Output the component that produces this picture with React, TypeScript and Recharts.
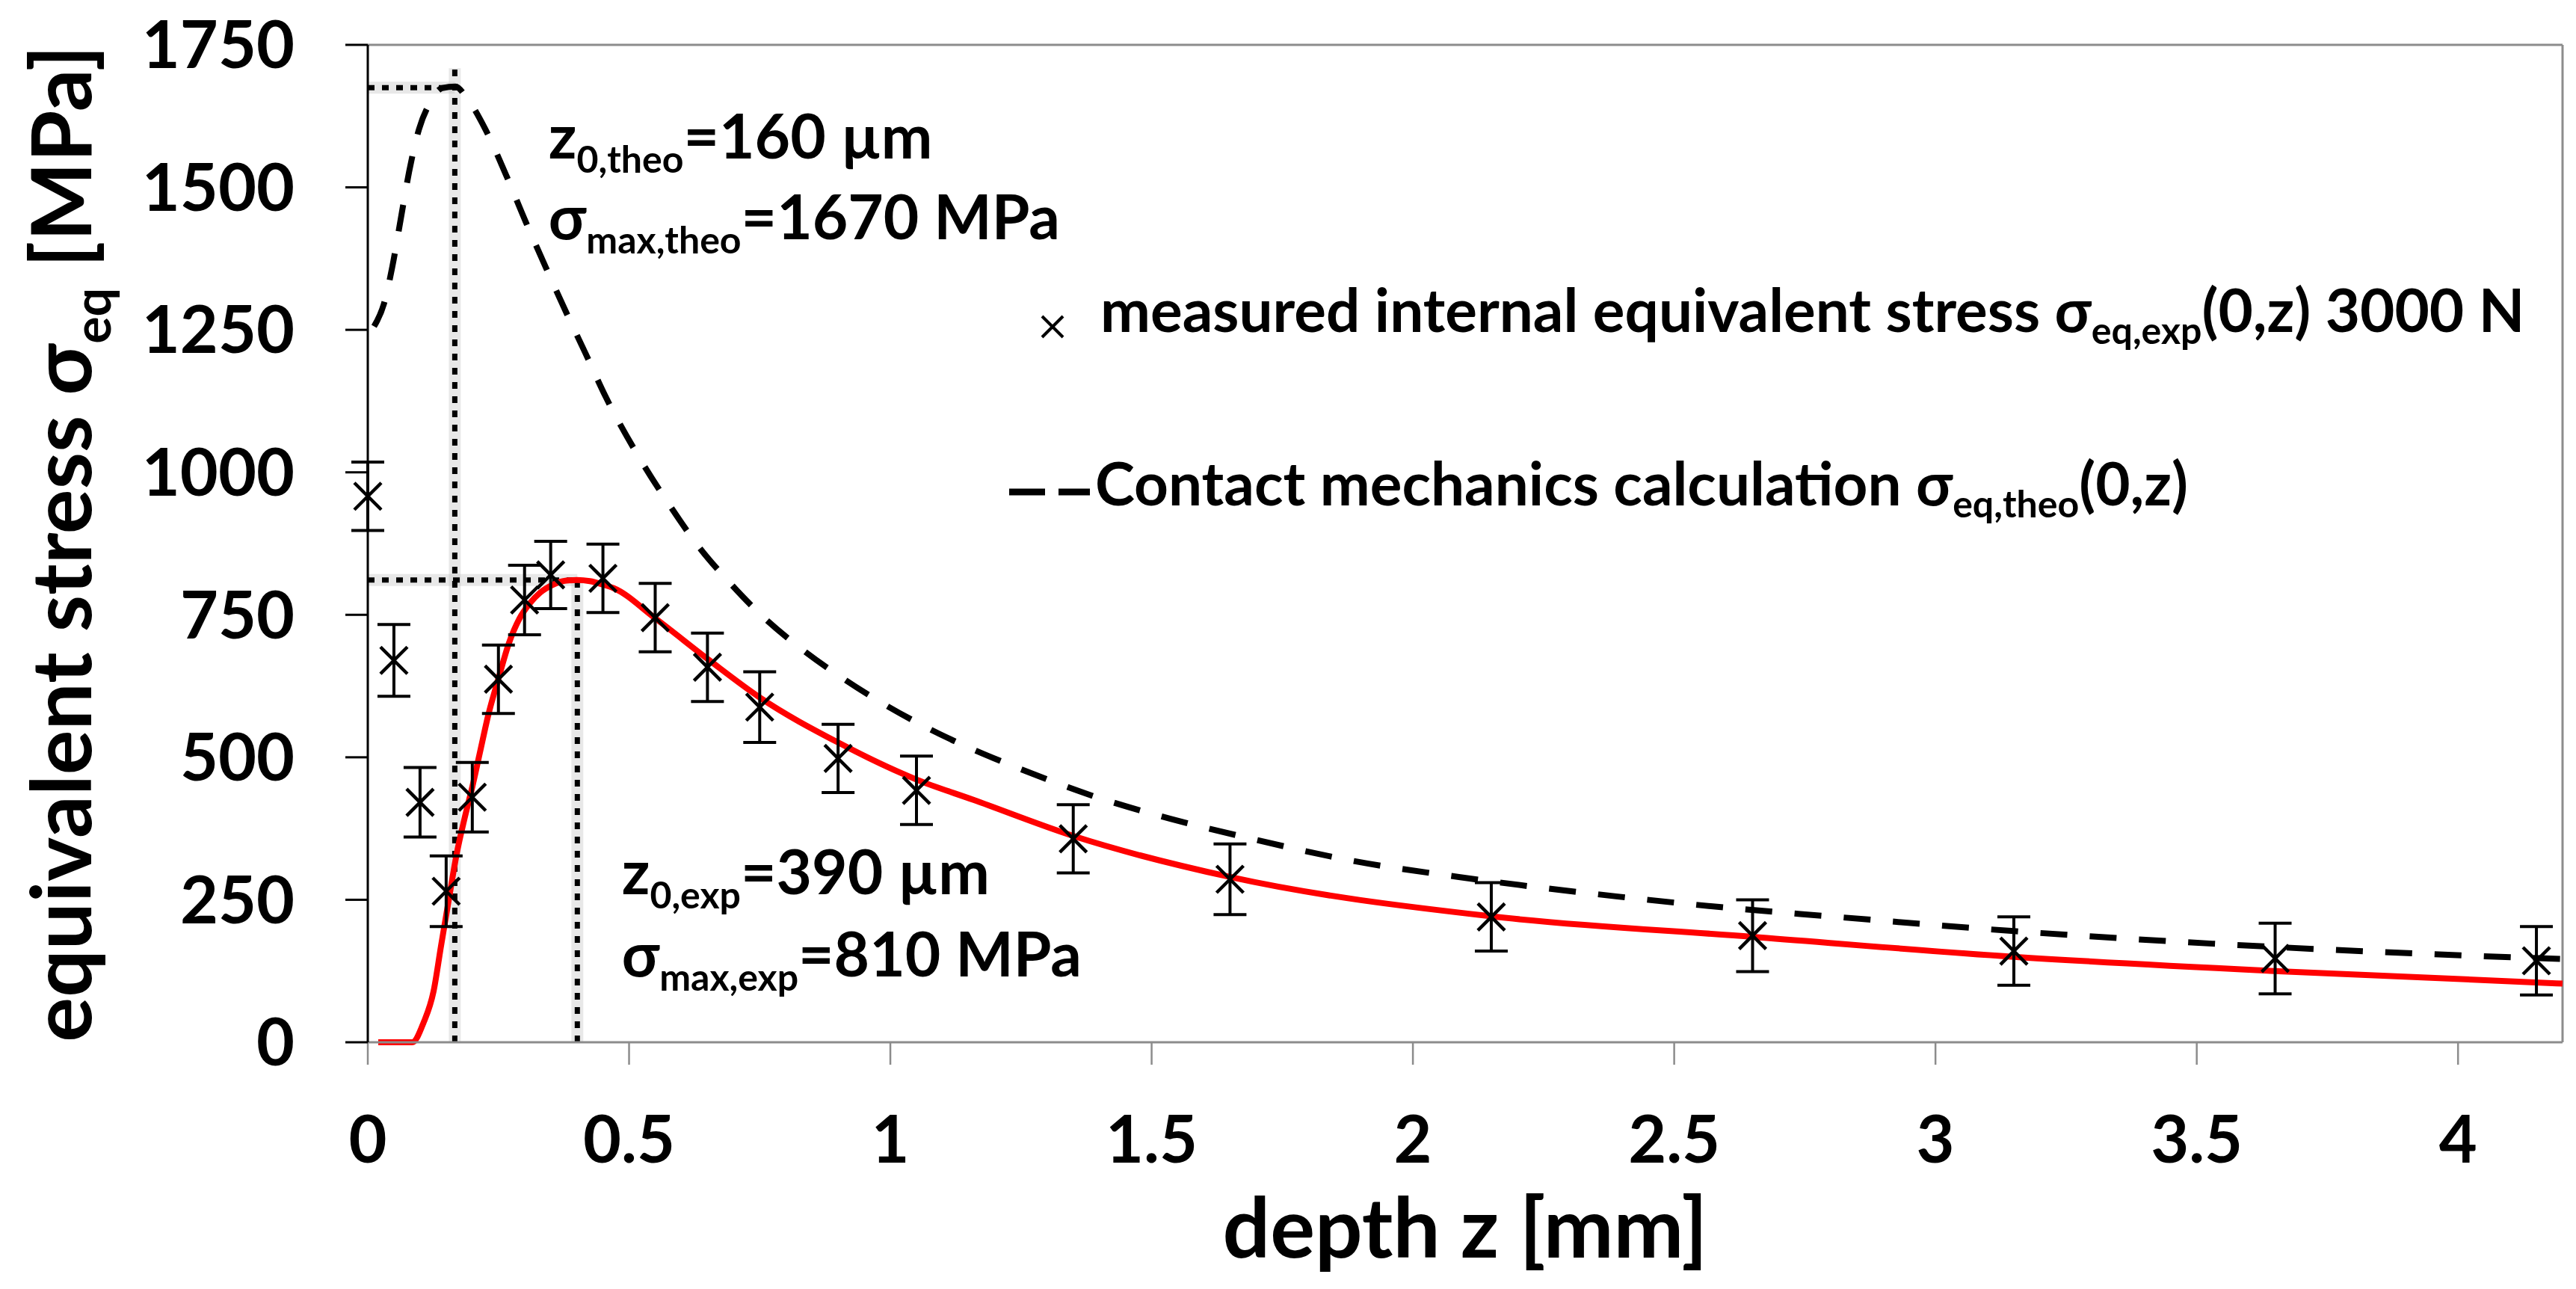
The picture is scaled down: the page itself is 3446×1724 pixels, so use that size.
import React from "react";
import {
  ComposedChart,
  Line,
  Scatter,
  ErrorBar,
  XAxis,
  YAxis,
  ReferenceLine,
  ReferenceDot,
  Legend,
} from "recharts";

const FONT = "Lato, 'Open Sans', sans-serif";

// measured internal equivalent stress, 3000 N (x-marks with error bars)
const depthMeasured = [0, 0.05, 0.1, 0.15, 0.2, 0.25, 0.3, 0.35, 0.45, 0.55, 0.65, 0.75, 0.9, 1.05, 1.35, 1.65, 2.15, 2.65, 3.15, 3.65, 4.15];
const stressMeasured = [958, 670, 421, 265, 430, 637, 776, 820, 814, 745, 658, 588, 498, 442, 357, 286, 220, 187, 160, 147, 143];
const stressError = [60, 63, 61, 62, 61, 60, 61, 59, 60, 60, 60, 62, 60, 60, 60, 62, 60, 63, 60, 62, 60];

// red fit through the measurements
const depthFit = [0.02, 0.085, 0.107, 0.126, 0.14, 0.155, 0.17, 0.185, 0.2, 0.215, 0.23, 0.25, 0.27, 0.29, 0.31, 0.33, 0.355, 0.38, 0.4, 0.425, 0.45, 0.47, 0.55, 0.654, 0.75, 0.9, 1.05, 1.16, 1.35, 1.65, 2.15, 2.65, 3.15, 3.65, 4.2];
const stressFit = [0, 0, 35, 90, 168, 250, 330, 392, 448, 510, 572, 638, 700, 743, 770, 789, 803, 810, 811, 809, 803, 797, 744, 670, 605, 526, 461, 425, 362, 290, 221, 185, 150, 125, 103];

// contact mechanics calculation (dashed)
const depthTheo = [0.012, 0.031, 0.047, 0.063, 0.079, 0.098, 0.117, 0.142, 0.168, 0.187, 0.225, 0.264, 0.302, 0.34, 0.379, 0.417, 0.455, 0.522, 0.577, 0.632, 0.694, 0.75, 0.83, 0.91, 0.99, 1.07, 1.16, 1.234, 1.385, 1.536, 1.687, 1.887, 2.088, 2.389, 2.59, 2.81, 3.15, 3.53, 4.05, 4.2];
const stressTheo = [1256, 1296, 1361, 1444, 1527, 1602, 1645, 1674, 1677, 1660, 1602, 1523, 1440, 1361, 1282, 1208, 1133, 1022, 943, 871, 805, 752, 690, 638, 592, 552, 513, 485, 433, 392, 358, 318, 290, 256, 237, 220, 195, 173, 151, 146];

const xTicks = [0, 0.5, 1, 1.5, 2, 2.5, 3, 3.5, 4];
const yTicks = [0, 250, 500, 750, 1000, 1250, 1500, 1750];

// maxima marked with dotted guide lines
const zTheo = 0.1665;
const sigmaTheoMax = 1675;
const zTheoTop = 1709;
const zExp = 0.401;
const sigmaExpMax = 811;

const annotations = [
  { z: 0.346, s: 1550, main: "z", sub: "0,theo", rest: "=160 µm" },
  { z: 0.346, s: 1409, main: "σ", sub: "max,theo", rest: "=1670 MPa" },
  { z: 0.486, s: 260, main: "z", sub: "0,exp", rest: "=390 µm" },
  { z: 0.486, s: 115, main: "σ", sub: "max,exp", rest: "=810 MPa" },
];

const measured = depthMeasured.map((x, i) => ({ x, measured: stressMeasured[i], err: stressError[i] }));
const fit = depthFit.map((x, i) => ({ x, fit: stressFit[i] }));
const theo = depthTheo.map((x, i) => ({ x, theo: stressTheo[i] }));

const XMark = (props: any) => {
  const { cx, cy } = props;
  const h = 18;
  return (
    <g stroke="#000" strokeWidth={4.5}>
      <line x1={cx - h} y1={cy - h} x2={cx + h} y2={cy + h} />
      <line x1={cx - h} y1={cy + h} x2={cx + h} y2={cy - h} />
    </g>
  );
};

const Annotation = ({ viewBox, main, sub, rest }: any) => (
  <text x={viewBox.x} y={viewBox.y} fontFamily={FONT} fontWeight={700} fontSize={82} fill="#000">
    {main}
    <tspan dy={19} fontSize={50}>{sub}</tspan>
    <tspan dy={-19}>{rest}</tspan>
  </text>
);

const YTitle = ({ viewBox }: any) => {
  const x = viewBox.x + 122;
  const y = viewBox.y + viewBox.height / 2;
  return (
    <text
      x={x}
      y={y}
      transform={`rotate(-90, ${x}, ${y})`}
      textAnchor="middle"
      fontFamily={FONT}
      fontWeight={700}
      fontSize={112}
      fill="#000"
    >
      equivalent stress σ
      <tspan dy={26} fontSize={68}>eq</tspan>
      <tspan dy={-26}> [MPa]</tspan>
    </text>
  );
};

const XTitle = ({ viewBox }: any) => (
  <text
    x={viewBox.x + viewBox.width / 2}
    y={viewBox.y + 288}
    textAnchor="middle"
    fontFamily={FONT}
    fontWeight={700}
    fontSize={112}
    fill="#000"
  >
    depth z [mm]
  </text>
);

const LegendBox = () => (
  <svg width={2100} height={340} style={{ overflow: "visible" }}>
    <g stroke="#000" strokeWidth={4}>
      <line x1={64} y1={43} x2={92} y2={71} />
      <line x1={92} y1={43} x2={64} y2={71} />
    </g>
    <text x={142} y={64} fontFamily={FONT} fontWeight={700} fontSize={80} fill="#000">
      measured internal equivalent stress σ
      <tspan dy={16} fontSize={50}>eq,exp</tspan>
      <tspan dy={-16}>(0,z) 3000 N</tspan>
    </text>
    <line x1={20} y1={278} x2={68} y2={278} stroke="#000" strokeWidth={9} />
    <line x1={86} y1={278} x2={128} y2={278} stroke="#000" strokeWidth={9} />
    <text x={135} y={296} fontFamily={FONT} fontWeight={700} fontSize={80} fill="#000">
      Contact mechanics calculation σ
      <tspan dy={16} fontSize={50}>eq,theo</tspan>
      <tspan dy={-16}>(0,z)</tspan>
    </text>
  </svg>
);

const tickStyle = { fill: "#000", fontSize: 88, fontFamily: FONT, fontWeight: 700 };
const dotted = { stroke: "#000", strokeWidth: 7, strokeDasharray: "9 10" };
const halo = { stroke: "#bdbdbd", strokeWidth: 16, strokeOpacity: 0.35 };

export default function App() {
  return (
    <div style={{ width: 3446, height: 1724, background: "#fff" }}>
      <style>{"body{margin:0;background:#fff}"}</style>
      <ComposedChart width={3446} height={1724} margin={{ top: 60, right: 18, bottom: 0, left: 0 }}>
        <XAxis
          dataKey="x"
          type="number"
          domain={[0, 4.2]}
          ticks={xTicks}
          height={330}
          tickSize={30}
          tickMargin={69}
          axisLine={{ stroke: "#8c8c8c", strokeWidth: 3 }}
          tickLine={{ stroke: "#8c8c8c", strokeWidth: 2.5 }}
          tick={tickStyle}
          label={(p: any) => <XTitle {...p} />}
        />
        <YAxis
          type="number"
          domain={[0, 1750]}
          ticks={yTicks}
          width={492}
          tickSize={30}
          tickMargin={68}
          axisLine={{ stroke: "#000", strokeWidth: 3 }}
          tickLine={{ stroke: "#000", strokeWidth: 3 }}
          tick={tickStyle}
          label={(p: any) => <YTitle {...p} />}
        />
        <ReferenceLine y={1750} stroke="#8c8c8c" strokeWidth={3} />
        <ReferenceLine x={4.2} stroke="#8c8c8c" strokeWidth={3} />

        <ReferenceLine segment={[{ x: 0, y: sigmaTheoMax }, { x: zTheo, y: sigmaTheoMax }]} {...halo} />
        <ReferenceLine segment={[{ x: zTheo, y: 0 }, { x: zTheo, y: zTheoTop }]} {...halo} />
        <ReferenceLine segment={[{ x: 0, y: sigmaExpMax }, { x: zExp, y: sigmaExpMax }]} {...halo} />
        <ReferenceLine segment={[{ x: zExp, y: 0 }, { x: zExp, y: sigmaExpMax }]} {...halo} />
        <ReferenceLine segment={[{ x: 0, y: sigmaTheoMax }, { x: zTheo, y: sigmaTheoMax }]} {...dotted} />
        <ReferenceLine segment={[{ x: zTheo, y: 0 }, { x: zTheo, y: zTheoTop }]} {...dotted} />
        <ReferenceLine segment={[{ x: 0, y: sigmaExpMax }, { x: zExp, y: sigmaExpMax }]} {...dotted} />
        <ReferenceLine segment={[{ x: zExp, y: 0 }, { x: zExp, y: sigmaExpMax }]} {...dotted} />

        <Line
          data={theo}
          dataKey="theo"
          type="monotone"
          stroke="#000"
          strokeWidth={8}
          strokeDasharray="36 30"
          dot={false}
          activeDot={false}
          isAnimationActive={false}
        />
        <Line
          data={fit}
          dataKey="fit"
          type="monotone"
          stroke="#ff0000"
          strokeWidth={8}
          dot={false}
          activeDot={false}
          isAnimationActive={false}
        />
        <Scatter data={measured} dataKey="measured" shape={XMark} isAnimationActive={false}>
          <ErrorBar dataKey="err" direction="y" width={22} strokeWidth={4} stroke="#000" isAnimationActive={false} />
        </Scatter>

        {annotations.map((a) => (
          <ReferenceDot
            key={a.sub}
            x={a.z}
            y={a.s}
            r={0}
            fill="none"
            stroke="none"
            label={(p: any) => <Annotation {...p} main={a.main} sub={a.sub} rest={a.rest} />}
          />
        ))}

        <Legend
          layout="vertical"
          align="center"
          verticalAlign="middle"
          wrapperStyle={{ left: 1330, top: 380, width: 2100, height: 340 }}
          content={() => <LegendBox />}
        />
      </ComposedChart>
    </div>
  );
}
